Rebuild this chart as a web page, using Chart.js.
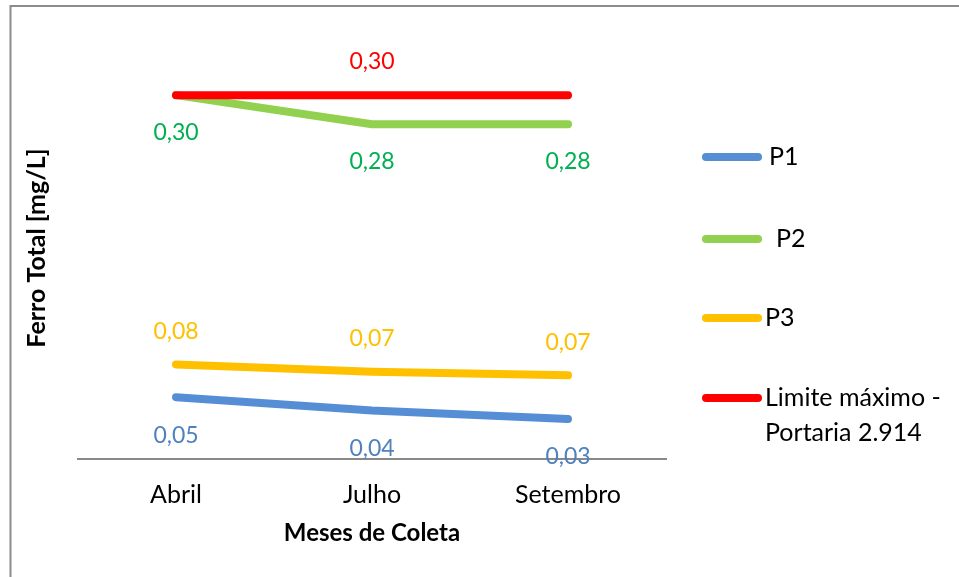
<!DOCTYPE html>
<html>
<head>
<meta charset="utf-8">
<script src="https://cdn.jsdelivr.net/npm/chart.js@4/dist/chart.umd.min.js"></script>
<style>
  body { margin: 0; background: #fff; }
</style>
</head>
<body>
<canvas id="grafFerro" width="959" height="577"></canvas>
<script>
// meses de coleta e valores de ferro total (mg/L)
var meses = ["Abril", "Julho", "Setembro"];
var p1 = [0.051, 0.040, 0.033];
var p2 = [0.300, 0.276, 0.276];
var p3 = [0.078, 0.072, 0.069];
var limite = [0.30, 0.30, 0.30];

var fonte = "Lato, 'Liberation Sans', sans-serif";

function fmt(v) {
    return v.toFixed(2).replace('.', ',');
}

// rotulos de dados (desloc = distancia vertical ao ponto)
var rotulos = {
    id: 'rotulos',
    afterDatasetsDraw: function (chart) {
        var ctx = chart.ctx;
        ctx.save();
        ctx.font = "23px " + fonte;
        ctx.textAlign = 'center';
        ctx.textBaseline = 'middle';
        chart.data.datasets.forEach(function (ds, i) {
            var meta = chart.getDatasetMeta(i);
            meta.data.forEach(function (pt, j) {
                if (ds.mostrar && ds.mostrar.indexOf(j) < 0) return;
                ctx.fillStyle = ds.corRotulo;
                ctx.fillText(fmt(ds.data[j]), pt.x, pt.y + ds.desloc);
            });
        });
        ctx.restore();
    }
};

// moldura, titulo do eixo y e legenda
var extras = {
    id: 'extras',
    afterDraw: function (chart) {
        var ctx = chart.ctx;
        ctx.save();
        ctx.strokeStyle = '#8c8c8c';
        ctx.lineWidth = 2;
        ctx.strokeRect(10.5, 6, 1000, 1000);

        ctx.fillStyle = '#000';
        ctx.font = "bold 25px " + fonte;
        ctx.textAlign = 'center';
        ctx.textBaseline = 'middle';
        ctx.translate(37, 248);
        ctx.rotate(-Math.PI / 2);
        ctx.fillText("Ferro Total [mg/L]", 0, 0);
        ctx.restore();

        ctx.save();
        ctx.font = "25px " + fonte;
        ctx.textBaseline = 'middle';
        ctx.lineCap = 'round';
        ctx.lineWidth = 8;
        var itens = [
            { y: 157, x: 769, cor: '#558ED5', txt: ["P1"] },
            { y: 239, x: 776, cor: '#92D050', txt: ["P2"] },
            { y: 318, x: 765, cor: '#FFC000', txt: ["P3"] },
            { y: 398, x: 765, cor: '#FF0000', txt: ["Limite máximo -", "Portaria 2.914"] }
        ];
        itens.forEach(function (it) {
            ctx.strokeStyle = it.cor;
            ctx.beginPath();
            ctx.moveTo(706, it.y);
            ctx.lineTo(758, it.y);
            ctx.stroke();
            ctx.fillStyle = '#000';
            it.txt.forEach(function (t, k) {
                ctx.fillText(t, it.x, it.y + k * 35);
            });
        });
        ctx.restore();
    }
};

function serie(nome, dados, cor, corRotulo, desloc, ordem) {
    return {
        label: nome,
        data: dados,
        borderColor: cor,
        backgroundColor: cor,
        borderWidth: 8,
        borderCapStyle: 'round',
        borderJoinStyle: 'round',
        pointRadius: 0,
        tension: 0,
        corRotulo: corRotulo,
        desloc: desloc,
        order: ordem
    };
}

var dsLimite = serie("Limite máximo - Portaria 2.914", limite, '#FF0000', '#FF0000', -34, -1);
dsLimite.mostrar = [1];

var grafico = new Chart(document.getElementById('grafFerro'), {
    type: 'line',
    data: {
        labels: meses,
        datasets: [
            serie("P1", p1, '#558ED5', '#4F81BD', 38, 0),
            serie("P2", p2, '#92D050', '#00B050', 37, 0),
            serie("P3", p3, '#FFC000', '#FFC000', -33, 0),
            dsLimite
        ]
    },
    options: {
        responsive: false,
        animation: false,
        layout: { padding: { left: 78, right: 293, top: 34.5, bottom: 0 } },
        plugins: {
            legend: { display: false },
            tooltip: { enabled: false }
        },
        scales: {
            x: {
                offset: true,
                grid: { display: false },
                border: { display: true, color: '#898989', width: 2 },
                ticks: { color: '#000', padding: 13, font: { family: fonte, size: 25 } },
                title: {
                    display: true,
                    text: "Meses de Coleta",
                    color: '#000',
                    font: { family: fonte, size: 24, weight: 'bold' },
                    padding: { top: 0, bottom: 29 }
                },
                afterFit: function (scale) { scale.height = 118; }
            },
            y: {
                display: false,
                min: 0,
                max: 0.35
            }
        }
    },
    plugins: [rotulos, extras]
});
</script>
</body>
</html>
